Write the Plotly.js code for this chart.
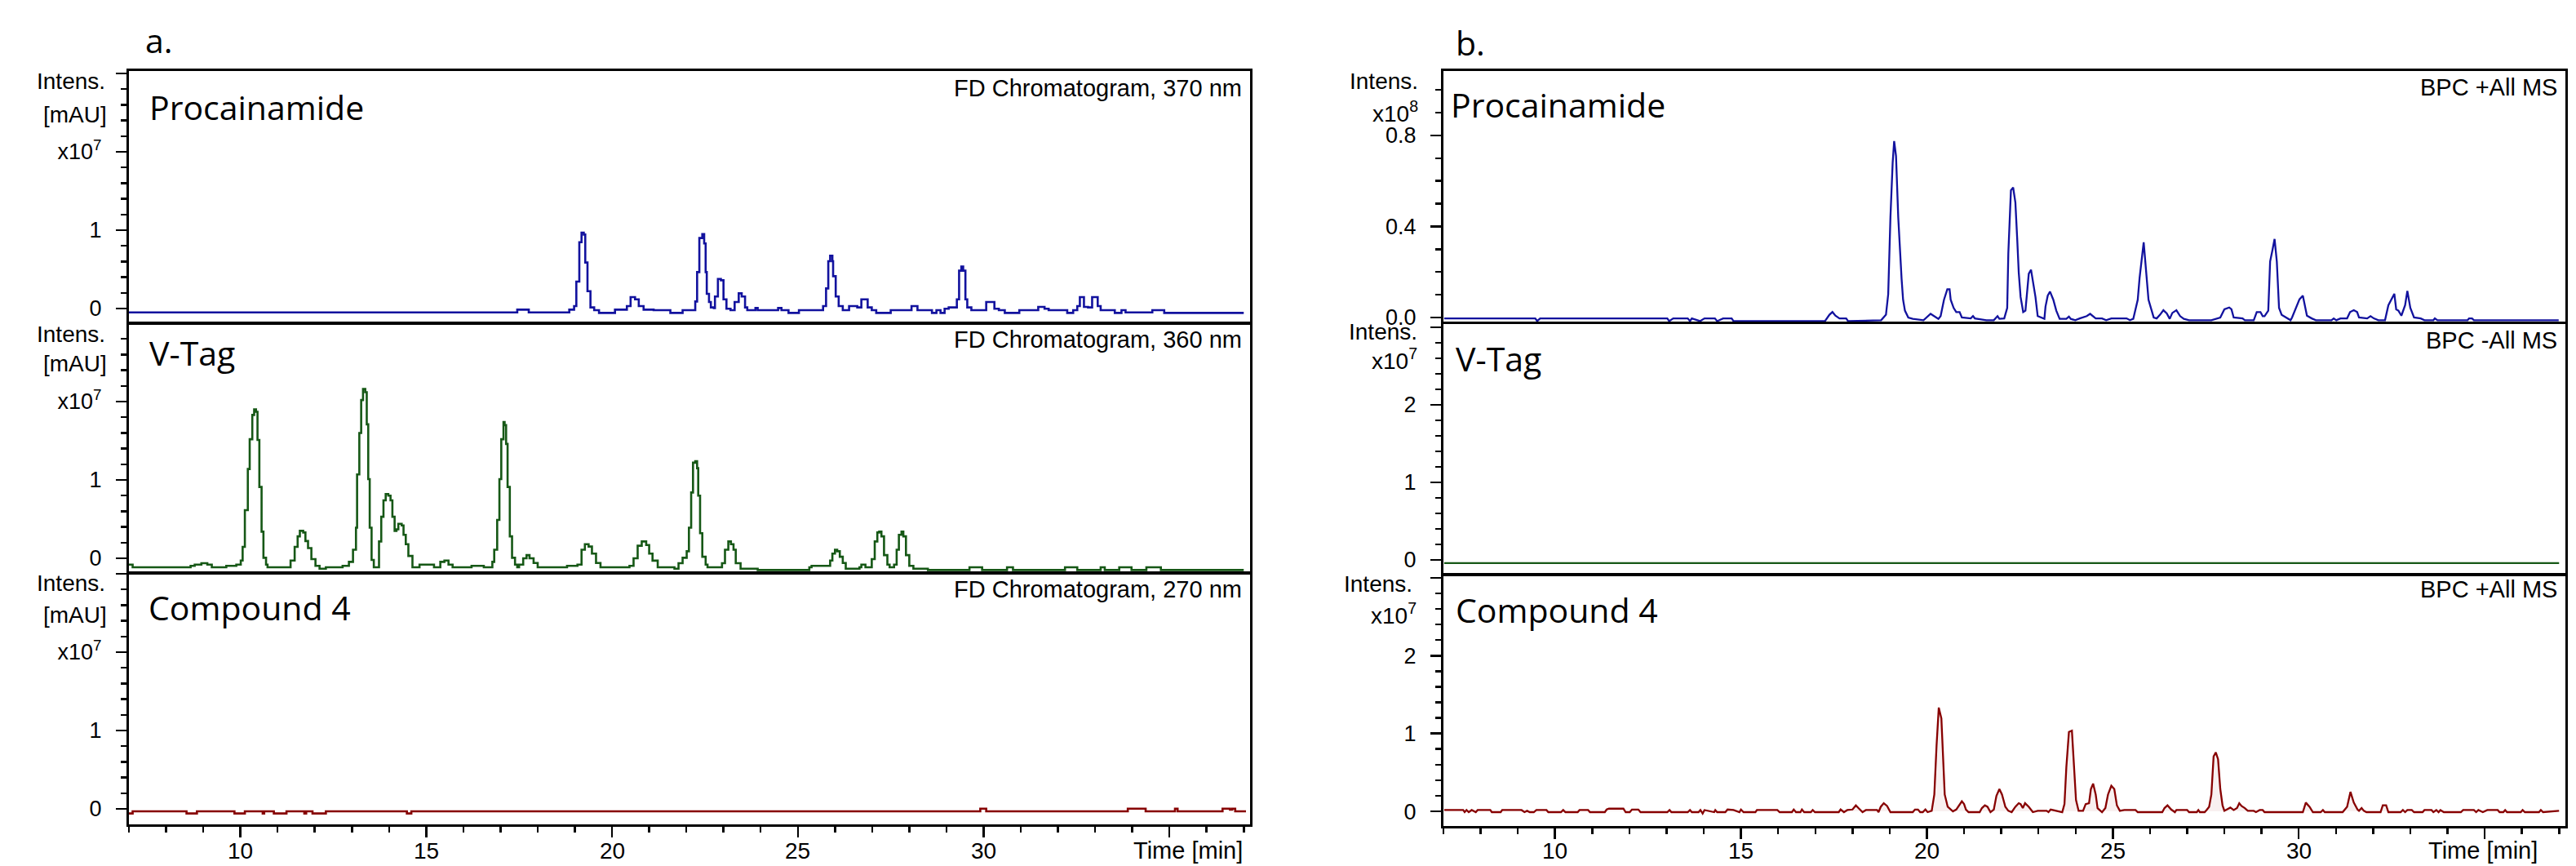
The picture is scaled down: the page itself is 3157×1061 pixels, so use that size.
<!DOCTYPE html>
<html>
<head>
<meta charset="utf-8">
<script src="https://cdn.plot.ly/plotly-3.0.1.min.js"></script>
<style>html,body{margin:0;padding:0;background:#fff;}#chart{width:3157px;height:1061px;}</style>
</head>
<body>
<div id="chart"></div>
<script>
// ---------------- DATA ----------------
// x axis ticks (minutes)
const xTickVals = [10, 15, 20, 25, 30, 35];
const xTickText = ['10', '15', '20', '25', '30', ''];
// y axis ticks
const yTickValsA = [0, 1, 2, 3];
const yTickTextA = ['0', '1', 'x10<sup>7</sup>', ' '];
const yTickValsB1 = [0, 0.4, 0.8];
const yTickTextB1 = ['0.0', '0.4', '0.8'];
const yTickValsB = [0, 1, 2, 3];
const yTickTextB = ['0', '1', '2', ' '];

// Panel a, Procainamide, FD 370 nm (x1e7 mAU)
const aProcT = [7.0, 17.45, 17.76, 18.85, 18.98, 19.04, 19.12, 19.18, 19.24, 19.28,
  19.34, 19.42, 19.52, 19.65, 20.08, 20.40, 20.50, 20.62, 20.72, 20.85,
  21.12, 21.57, 21.90, 22.24, 22.29, 22.35, 22.43, 22.48, 22.52, 22.55,
  22.61, 22.66, 22.74, 22.77, 22.85, 22.93, 23.0, 23.08, 23.19, 23.30,
  23.41, 23.49, 23.58, 23.64, 23.86, 23.92, 24.47, 24.56, 24.75, 25.03,
  25.68, 25.76, 25.82, 25.87, 25.93, 25.95, 26.02, 26.10, 26.21, 26.38,
  26.60, 26.71, 26.88, 26.99, 27.11, 27.50, 28.06, 28.22, 28.61, 28.73,
  28.84, 28.95, 29.06, 29.28, 29.34, 29.40, 29.45, 29.51, 29.56, 29.67,
  30.07, 30.29, 30.41, 30.57, 30.96, 31.47, 31.64, 31.75, 32.25, 32.41,
  32.52, 32.59, 32.70, 32.81, 32.92, 33.07, 33.15, 33.53, 33.71, 33.82,
  34.54, 34.86, 37.0];
const aProcV = [-0.049, -0.014, -0.049, -0.014, 0.031, 0.344, 0.847, 0.969, 0.944, 0.587,
  0.222, 0.014, -0.021, -0.056, -0.014, 0.031, 0.146, 0.118, 0.031, -0.014,
  -0.021, -0.056, -0.021, 0.09, 0.465, 0.90, 0.951, 0.83, 0.465, 0.188,
  0.083, 0.014, 0.007, 0.153, 0.378, 0.361, 0.118, -0.003, -0.021, 0.083,
  0.194, 0.153, 0.014, -0.021, 0.007, -0.021, 0.007, -0.021, -0.056, -0.021,
  0.031, 0.257, 0.604, 0.674, 0.604, 0.413, 0.153, 0.031, -0.021, 0.031,
  0.014, 0.118, 0.014, -0.021, -0.056, -0.021, 0.031, -0.021, -0.056, -0.021,
  -0.056, -0.003, 0.014, 0.118, 0.483, 0.535, 0.483, 0.118, 0.014, -0.021,
  0.083, -0.003, -0.021, -0.056, -0.021, 0.021, -0.003, -0.021, -0.056, -0.021,
  0.031, 0.146, 0.021, 0.014, 0.146, 0.031, -0.021, -0.056, -0.021, -0.049,
  -0.021, -0.056, -0.056];

// Panel a, V-Tag, FD 360 nm (x1e7 mAU)
const aVtagT = [7.0, 7.10, 8.66, 8.77, 8.95, 9.11, 9.23, 9.62, 9.89, 10.01,
  10.06, 10.12, 10.20, 10.25, 10.32, 10.37, 10.42, 10.46, 10.51, 10.57,
  10.62, 10.69, 10.73, 11.29, 11.35, 11.46, 11.54, 11.60, 11.69, 11.75,
  11.82, 11.91, 12.02, 12.13, 12.30, 12.75, 12.92, 13.03, 13.11, 13.14,
  13.20, 13.25, 13.30, 13.36, 13.40, 13.44, 13.48, 13.53, 13.59, 13.73,
  13.79, 13.85, 13.91, 13.98, 14.04, 14.09, 14.15, 14.20, 14.25, 14.34,
  14.39, 14.45, 14.52, 14.63, 14.82, 15.21, 15.38, 15.49, 15.60, 15.71,
  16.22, 16.55, 16.78, 16.83, 16.91, 16.97, 17.02, 17.08, 17.11, 17.15,
  17.19, 17.25, 17.31, 17.39, 17.45, 17.50, 17.61, 17.70, 17.78, 17.89,
  18.0, 18.79, 19.07, 19.18, 19.27, 19.37, 19.46, 19.57, 19.69, 20.47,
  20.58, 20.69, 20.80, 20.92, 21.0, 21.09, 21.23, 21.68, 21.79, 21.90,
  22.01, 22.07, 22.13, 22.18, 22.24, 22.29, 22.32, 22.37, 22.43, 22.52,
  22.57, 22.96, 23.04, 23.13, 23.20, 23.27, 23.33, 23.46, 23.92,
  25.31, 25.37, 25.87, 25.93, 26.0, 26.06, 26.13, 26.21, 26.29,
  26.66, 26.71, 26.82, 26.99, 27.07, 27.14, 27.19, 27.25, 27.32, 27.41,
  27.47, 27.59, 27.66, 27.72, 27.79, 27.84, 27.91, 28.0, 28.11, 28.50,
  29.62, 29.96, 30.63, 30.79, 32.19, 32.52, 33.15, 33.26, 33.65, 33.98,
  34.38, 34.77, 37.0];
const aVtagV = [-0.08, -0.115, -0.097, -0.08, -0.063, -0.08, -0.115, -0.097, -0.08, -0.028,
  0.146, 0.615, 1.14, 1.52, 1.83, 1.90, 1.87, 1.51, 0.91, 0.34,
  0.007, -0.08, -0.115, -0.115, -0.028, 0.146, 0.28, 0.35, 0.33, 0.22,
  0.13, -0.01, -0.097, -0.132, -0.115, -0.097, -0.045, 0.11, 0.39, 1.07,
  1.60, 2.02, 2.16, 2.12, 1.71, 1.01, 0.39, -0.02, -0.115, 0.215,
  0.53, 0.74, 0.82, 0.80, 0.74, 0.53, 0.35, 0.37, 0.44, 0.42,
  0.30, 0.18, 0.03, -0.115, -0.08, -0.115, -0.045, -0.028, -0.08, -0.115,
  -0.097, -0.115, -0.045, 0.11, 0.49, 1.01, 1.52, 1.74, 1.70, 1.46,
  0.91, 0.28, 0.007, -0.08, -0.115, -0.08, 0.0, 0.04, 0.0, -0.06,
  -0.115, -0.097, -0.08, 0.11, 0.18, 0.15, 0.06, -0.06, -0.115, -0.097,
  0.0, 0.16, 0.215, 0.17, 0.06, -0.03, -0.115, -0.132, -0.063, 0.007,
  0.09, 0.39, 0.84, 1.22, 1.24, 1.15, 0.80, 0.32, 0.02, -0.08,
  -0.115, -0.063, 0.11, 0.215, 0.18, 0.11, -0.063, -0.132, -0.15,
  -0.115, -0.097, -0.028, 0.06, 0.11, 0.09, 0.02, -0.06, -0.132,
  -0.115, -0.08, -0.115, -0.01, 0.215, 0.33, 0.34, 0.28, 0.04, -0.08,
  -0.115, -0.08, 0.11, 0.30, 0.34, 0.28, 0.04, -0.097, -0.132, -0.15,
  -0.115, -0.15, -0.115, -0.15, -0.115, -0.15, -0.115, -0.15, -0.115, -0.15,
  -0.115, -0.15, -0.15];

// Panel a, Compound 4, FD 270 nm (x1e7 mAU)
const aCmpT = [7.0, 7.10, 8.55, 8.83, 9.84, 10.12, 10.60, 10.64, 10.90, 11.24,
  11.72, 11.77, 11.94, 12.30, 14.48, 14.60, 29.91, 30.07, 33.88, 34.36,
  35.15, 35.22, 36.43, 36.63, 36.69, 36.77, 37.06];
const aCmpV = [-0.059, -0.031, -0.059, -0.031, -0.059, -0.031, -0.059, -0.031, -0.059, -0.031,
  -0.059, -0.031, -0.059, -0.031, -0.059, -0.031, 0.003, -0.031, 0.003, -0.031,
  0.003, -0.031, 0.003, -0.01, 0.003, -0.031, -0.031];

// Panel b, Procainamide, BPC +All MS (x1e8)
const bProcT = [7.02, 9.47, 9.52, 9.60, 13.02, 13.07, 13.18, 13.57, 13.63, 13.68,
  13.90, 14.02, 14.30, 14.36, 14.52, 14.75, 14.80, 17.26, 17.38, 17.46,
  17.54, 17.65, 17.83, 17.88, 18.77, 18.90, 18.96, 19.02, 19.08, 19.12,
  19.17, 19.23, 19.32, 19.36, 19.41, 19.50, 19.62, 19.91, 20.10, 20.20,
  20.31, 20.37, 20.46, 20.55, 20.61, 20.64, 20.72, 20.79, 20.88, 20.94,
  21.18, 21.24, 21.29, 21.60, 21.80, 21.90, 21.95, 22.08, 22.16, 22.19,
  22.26, 22.32, 22.38, 22.43, 22.47, 22.52, 22.59, 22.65, 22.70, 22.74,
  22.80, 22.85, 22.92, 22.98, 23.09, 23.16, 23.19, 23.25, 23.31, 23.40,
  23.48, 23.57, 23.75, 23.82, 23.87, 23.99, 24.11, 24.30, 24.39, 24.54,
  24.71, 24.82, 24.96, 25.37, 25.46, 25.55, 25.67, 25.72, 25.83, 25.91,
  25.96, 26.10, 26.18, 26.27, 26.36, 26.45, 26.53, 26.60, 26.71, 26.81,
  26.91, 27.05, 27.65, 27.89, 28.00, 28.13, 28.19, 28.25, 28.49, 28.55,
  28.79, 28.87, 28.97, 29.03, 29.08, 29.18, 29.23, 29.29, 29.35, 29.41,
  29.47, 29.54, 29.69, 29.78, 29.82, 29.93, 30.02, 30.11, 30.17, 30.22,
  30.35, 30.46, 30.88, 30.94, 31.01, 31.12, 31.30, 31.38, 31.48, 31.57,
  31.62, 31.84, 31.93, 32.02, 32.14, 32.32, 32.41, 32.57, 32.62, 32.68,
  32.76, 32.86, 32.92, 33.00, 33.10, 33.28, 33.38, 33.62, 33.66, 33.73,
  34.54, 34.58, 34.66, 34.71, 36.99];
const bProcV = [-0.004, -0.004, -0.016, -0.004, -0.004, -0.016, -0.004, -0.004, -0.016, -0.004,
  -0.016, -0.004, -0.004, -0.016, -0.004, -0.004, -0.016, -0.016, 0.012, 0.024,
  0.008, -0.004, -0.004, -0.016, -0.012, 0.012, 0.102, 0.44, 0.68, 0.775,
  0.71, 0.44, 0.17, 0.078, 0.03, 0.0, -0.006, -0.012, 0.016, 0.006,
  -0.006, 0.006, 0.078, 0.124, 0.124, 0.078, 0.042, 0.024, 0.024, 0.0,
  -0.004, 0.006, -0.004, -0.012, -0.012, 0.006, -0.006, -0.004, 0.042, 0.282,
  0.559, 0.571, 0.505, 0.342, 0.198, 0.09, 0.024, 0.03, 0.126, 0.192,
  0.21, 0.162, 0.09, 0.006, 0.0, -0.006, 0.048, 0.096, 0.114, 0.078,
  0.03, -0.006, -0.006, 0.004, -0.006, -0.012, -0.004, 0.006, 0.016, -0.004,
  -0.004, -0.012, -0.004, -0.004, -0.012, -0.006, 0.078, 0.174, 0.33, 0.174,
  0.078, 0.0, -0.004, 0.012, 0.032, 0.018, -0.006, 0.02, 0.032, 0.006,
  -0.006, -0.012, -0.012, 0.0, 0.036, 0.044, 0.036, 0.0, -0.004, -0.012,
  -0.012, 0.024, 0.024, 0.006, 0.006, 0.03, 0.246, 0.294, 0.345, 0.246,
  0.042, 0.012, -0.004, -0.012, 0.0, 0.042, 0.08, 0.096, 0.054, 0.008,
  -0.004, -0.012, -0.012, -0.004, -0.012, -0.004, -0.004, 0.024, 0.032, 0.024,
  0.0, -0.004, 0.006, -0.004, -0.012, -0.012, 0.054, 0.104, 0.036, 0.03,
  0.008, 0.054, 0.117, 0.042, 0.0, -0.004, -0.012, -0.012, -0.004, -0.012,
  -0.012, -0.004, -0.004, -0.012, -0.012];

// Panel b, V-Tag, BPC -All MS (x1e7)
const bVtagT = [7.02, 37.0];
const bVtagV = [-0.04, -0.04];

// Panel b, Compound 4, BPC +All MS (x1e7)
const bCmpT = [7.02, 7.53, 7.57, 7.62, 7.68, 7.76, 7.87, 7.92, 8.26, 8.30,
  8.54, 8.58, 9.10, 9.18, 9.25, 9.32, 9.43, 9.50, 9.77, 9.82,
  10.16, 10.22, 10.28, 10.61, 10.66, 10.89, 10.94, 11.34, 11.39, 11.45,
  11.84, 11.90, 12.01, 12.07, 12.24, 12.30, 13.02, 13.08, 13.13, 13.57,
  13.63, 13.68, 13.86, 13.91, 13.97, 14.02, 14.28, 14.31, 14.36, 14.58,
  14.64, 14.80, 14.96, 15.00, 15.07, 15.39, 15.43, 15.98, 16.04, 16.37,
  16.42, 16.48, 16.60, 16.64, 16.70, 16.88, 16.93, 16.99, 17.63, 17.68,
  17.77, 17.86, 18.00, 18.09, 18.16, 18.27, 18.36, 18.66, 18.70, 18.76,
  18.84, 18.93, 19.02, 19.62, 19.68, 19.76, 19.82, 19.89, 19.96, 20.02,
  20.13, 20.20, 20.26, 20.32, 20.39, 20.44, 20.48, 20.56, 20.70, 20.79,
  20.88, 20.94, 21.00, 21.05, 21.12, 21.42, 21.48, 21.56, 21.63, 21.71,
  21.80, 21.87, 21.95, 22.02, 22.11, 22.19, 22.28, 22.38, 22.47, 22.52,
  22.58, 22.64, 22.74, 22.85, 22.98, 23.22, 23.27, 23.33, 23.64, 23.70,
  23.75, 23.82, 23.90, 23.96, 24.01, 24.08, 24.20, 24.27, 24.36, 24.41,
  24.47, 24.54, 24.59, 24.71, 24.80, 24.87, 24.96, 25.04, 25.11, 25.19,
  25.31, 25.61, 25.67, 26.33, 26.39, 26.47, 26.57, 26.67, 26.71, 27.00,
  27.05, 27.26, 27.30, 27.34, 27.47, 27.52, 27.59, 27.65, 27.71, 27.77,
  27.83, 27.89, 27.95, 28.00, 28.11, 28.16, 28.25, 28.34, 28.40, 28.46,
  28.55, 28.63, 28.79, 28.85, 28.95, 29.03, 29.08, 30.11, 30.19, 30.29,
  30.38, 30.59, 30.65, 30.70, 31.18, 31.30, 31.39, 31.48, 31.58, 31.62,
  31.69, 31.75, 31.82, 32.20, 32.26, 32.35, 32.41, 32.74, 32.80, 32.86,
  32.92, 33.04, 33.10, 33.33, 33.38, 33.57, 33.62, 33.70, 33.76, 33.81,
  33.90, 34.36, 34.42, 34.71, 34.77, 34.83, 34.95, 35.07, 35.35, 35.40,
  35.50, 35.55, 35.60, 35.97, 36.02, 36.08, 36.46, 36.51, 36.57, 37.0];
const bCmpV = [0.017, 0.017, -0.01, 0.017, -0.01, 0.017, -0.01, 0.017, 0.017, -0.01,
  -0.01, 0.017, 0.017, -0.01, 0.007, -0.01, -0.01, 0.017, 0.017, -0.01,
  -0.01, 0.017, -0.01, -0.01, 0.017, 0.017, -0.01, -0.01, 0.024, 0.035,
  0.035, -0.01, -0.01, 0.024, 0.024, -0.01, -0.01, 0.017, -0.01, -0.01,
  0.017, -0.01, -0.01, 0.017, -0.028, 0.017, -0.01, 0.017, -0.01, -0.01,
  0.024, 0.017, -0.01, 0.024, -0.01, -0.01, 0.017, 0.017, -0.01, -0.01,
  0.024, -0.01, -0.01, 0.024, -0.01, -0.01, 0.017, -0.01, -0.01, 0.024,
  -0.01, 0.017, 0.024, 0.077, 0.042, -0.01, 0.017, 0.017, -0.01, 0.059,
  0.105, 0.07, -0.01, -0.01, 0.024, 0.024, -0.01, -0.01, 0.024, -0.01,
  0.007, 0.216, 0.845, 1.333, 1.194, 0.565, 0.216, 0.059, 0.0, 0.024,
  0.094, 0.129, 0.094, 0.024, -0.01, -0.01, 0.042, 0.077, 0.059, -0.01,
  0.024, 0.2, 0.286, 0.216, 0.059, 0.007, -0.01, 0.059, 0.105, 0.094,
  0.042, 0.105, 0.059, -0.01, 0.007, 0.007, -0.01, 0.024, -0.01, 0.094,
  0.565, 1.02, 1.037, 0.6, 0.147, 0.007, 0.007, 0.094, 0.105, 0.286,
  0.356, 0.216, 0.042, -0.01, 0.042, 0.216, 0.328, 0.286, 0.077, 0.007,
  0.017, 0.017, -0.01, -0.01, 0.042, 0.077, 0.024, -0.01, 0.017, 0.017,
  -0.01, -0.01, 0.017, -0.01, -0.01, 0.017, 0.059, 0.216, 0.705, 0.757,
  0.67, 0.286, 0.077, 0.007, 0.042, 0.049, 0.017, 0.042, 0.105, 0.07,
  0.042, 0.007, 0.007, -0.01, 0.017, 0.017, -0.01, -0.01, 0.112, 0.059,
  -0.01, -0.01, 0.017, -0.01, -0.01, 0.059, 0.25, 0.112, 0.024, 0.007,
  0.042, 0.007, -0.01, -0.01, 0.077, 0.077, -0.01, -0.01, 0.017, -0.01,
  0.017, 0.017, -0.01, -0.01, 0.017, 0.017, -0.01, 0.017, -0.01, 0.017,
  -0.01, -0.01, 0.017, 0.017, -0.01, 0.017, -0.01, 0.017, 0.017, -0.01,
  -0.01, 0.017, -0.01, -0.01, 0.017, -0.01, -0.01, 0.017, -0.01, 0.007];

// ---------------- LAYOUT ----------------
const W = 3157, H = 1061;
const px = v => v / W;
const py = v => 1 - v / H;
const TXT = 'Liberation Sans, Arial, sans-serif';
const LBL = 'Open Sans, sans-serif';
const BLUE = 'rgb(18,18,158)', GREEN = 'rgb(22,88,22)', RED = 'rgb(135,0,0)';

const X_RANGE = [7.0, 37.17];
const aX = [px(158), px(1532)];
const bX = [px(1769), px(3144)];

function xAxis(domain, anchor, bottom) {
  const ax = {domain: domain, anchor: anchor, range: X_RANGE, showline: true, mirror: true,
    linewidth: 3, linecolor: 'black', showgrid: false, zeroline: false, fixedrange: true,
    showticklabels: false};
  if (bottom) {
    Object.assign(ax, {ticks: 'outside', ticklen: 13, tickwidth: 2.5, tickcolor: 'black',
      tickmode: 'array', tickvals: xTickVals,
      minor: {ticks: 'outside', ticklen: 7, tickwidth: 2.5, tickcolor: 'black',
        tickmode: 'linear', tick0: 0, dtick: 1}});
  } else {
    ax.ticks = '';
  }
  return ax;
}
function yAxis(domain, anchor, range, vals, text, mstep, standoff) {
  return {domain: domain, anchor: anchor, range: range, showline: true, mirror: true,
    linewidth: 3, linecolor: 'black', showgrid: false, zeroline: false, fixedrange: true,
    ticks: 'outside', ticklen: 13, tickwidth: 2.5, tickcolor: 'black',
    tickmode: 'array', tickvals: vals, ticktext: text,
    tickfont: {family: TXT, size: 27, color: 'black'}, ticklabelstandoff: standoff,
    minor: {ticks: 'outside', ticklen: 7, tickwidth: 2.5, tickcolor: 'black',
      tickmode: 'linear', tick0: 0, dtick: mstep}};
}

function ann(text, x, y, xanchor, family, size) {
  return {text: text, x: px(x), y: py(y), xref: 'paper', yref: 'paper',
    xanchor: xanchor, yanchor: 'middle', showarrow: false,
    font: {family: family, size: size, color: 'black'}};
}

const annotations = [
  ann('a.', 176, 49, 'left', LBL, 41),
  ann('b.', 1782, 52, 'left', LBL, 41),
  ann('Procainamide', 181, 131, 'left', LBL, 41),
  ann('V-Tag', 181, 432, 'left', LBL, 41),
  ann('Compound 4', 180, 744, 'left', LBL, 41),
  ann('Procainamide', 1776, 128, 'left', LBL, 41),
  ann('V-Tag', 1782, 439, 'left', LBL, 41),
  ann('Compound 4', 1782, 747, 'left', LBL, 41),
  ann('FD Chromatogram, 370 nm', 1524, 108, 'right', TXT, 29),
  ann('FD Chromatogram, 360 nm', 1524, 416, 'right', TXT, 29),
  ann('FD Chromatogram, 270 nm', 1524, 722, 'right', TXT, 29),
  ann('BPC +All MS', 3136, 107, 'right', TXT, 29),
  ann('BPC -All MS', 3136, 417, 'right', TXT, 29),
  ann('BPC +All MS', 3136, 722, 'right', TXT, 29),
  ann('Intens.', 131, 100, 'right', TXT, 28),
  ann('[mAU]', 133, 140, 'right', TXT, 28),
  ann('Intens.', 131, 409, 'right', TXT, 28),
  ann('[mAU]', 133, 445, 'right', TXT, 28),
  ann('Intens.', 131, 714, 'right', TXT, 28),
  ann('[mAU]', 133, 753, 'right', TXT, 28),
  ann('Intens.', 1740, 99, 'right', TXT, 28),
  ann('x10<sup>8</sup>', 1740, 137, 'right', TXT, 28),
  ann('Intens.', 1739, 406, 'right', TXT, 28),
  ann('x10<sup>7</sup>', 1739, 440, 'right', TXT, 28),
  ann('Intens.', 1733, 715, 'right', TXT, 28),
  ann('x10<sup>7</sup>', 1738, 752, 'right', TXT, 28),
  ann('Time [min]', 1525, 1042, 'right', TXT, 29),
  ann('Time [min]', 3112, 1042, 'right', TXT, 29)
];
// x tick labels placed at their tick values on the two bottom axes
['x3', 'x6'].forEach(function (xr) {
  xTickVals.forEach(function (v, i) {
    if (!xTickText[i]) return;
    annotations.push({text: xTickText[i], x: v, xref: xr, y: py(1042), yref: 'paper',
      xanchor: 'center', yanchor: 'middle', showarrow: false,
      font: {family: TXT, size: 28, color: 'black'}});
  });
});

const layout = {
  width: W, height: H, margin: {l: 0, r: 0, t: 0, b: 0},
  paper_bgcolor: 'white', plot_bgcolor: 'white', showlegend: false,
  font: {family: TXT, size: 27, color: 'black'},
  xaxis: xAxis(aX, 'y', false),
  xaxis2: xAxis(aX, 'y2', false),
  xaxis3: xAxis(aX, 'y3', true),
  xaxis4: xAxis(bX, 'y4', false),
  xaxis5: xAxis(bX, 'y5', false),
  xaxis6: xAxis(bX, 'y6', true),
  yaxis: yAxis([py(395), py(87)], 'x', [-0.177, 3.031], yTickValsA, yTickTextA, 0.2, 12),
  yaxis2: yAxis([py(701), py(397)], 'x2', [-0.177, 2.99], yTickValsA, yTickTextA, 0.2, 12),
  yaxis3: yAxis([py(1010), py(703)], 'x3', [-0.198, 3.0], yTickValsA, yTickTextA, 0.2, 12),
  yaxis4: yAxis([py(394), py(87)], 'x4', [-0.018, 1.083], yTickValsB1, yTickTextB1, 0.1, 12),
  yaxis5: yAxis([py(703), py(397)], 'x5', [-0.179, 3.04], yTickValsB, yTickTextB, 0.2, 12),
  yaxis6: yAxis([py(1012), py(705)], 'x6', [-0.188, 3.03], yTickValsB, yTickTextB, 0.2, 12),
  annotations: annotations
};

function trace(x, y, xa, ya, color, shape, width, fill) {
  if (x.length !== y.length) console.error('length mismatch', x.length, y.length);
  const t = {x: x, y: y, xaxis: xa, yaxis: ya, type: 'scatter', mode: 'lines',
    line: {color: color, width: width, shape: shape}, hoverinfo: 'skip'};
  if (fill) { t.fill = 'tozeroy'; t.fillcolor = fill; }
  return t;
}

const data = [
  trace(aProcT, aProcV, 'x', 'y', BLUE, 'hv', 2.6),
  trace(aVtagT, aVtagV, 'x2', 'y2', GREEN, 'hv', 2.6),
  trace(aCmpT, aCmpV, 'x3', 'y3', RED, 'hv', 2.6),
  trace(bProcT, bProcV, 'x4', 'y4', BLUE, 'linear', 2.3),
  trace(bVtagT, bVtagV, 'x5', 'y5', GREEN, 'linear', 2.3),
  trace(bCmpT, bCmpV, 'x6', 'y6', RED, 'linear', 2.3, 'rgba(140,0,0,0.06)')
];

Plotly.newPlot('chart', data, layout, {staticPlot: true, displayModeBar: false});
</script>
</body>
</html>
